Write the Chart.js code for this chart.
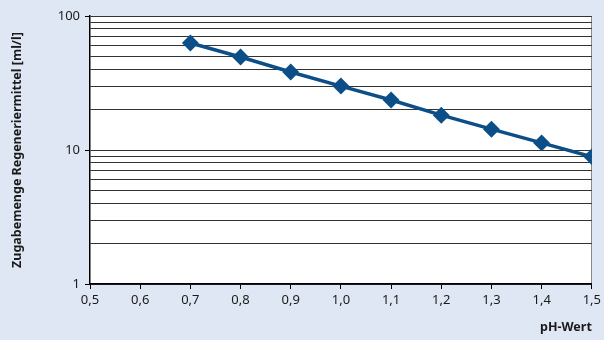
<!DOCTYPE html>
<html>
<head>
<meta charset="utf-8">
<script src="https://cdn.jsdelivr.net/npm/chart.js@4"></script>
<style>
  html, body { margin: 0; padding: 0; background: #dfe7f4; }
  #wrap { width: 604px; height: 340px; }
</style>
</head>
<body>
<div id="wrap"><canvas id="phChart" width="604" height="340"></canvas></div>
<script>
const phValues = [0.7, 0.8, 0.9, 1.0, 1.1, 1.2, 1.3, 1.4, 1.5];
const amounts = [62.9, 49.4, 38.2, 30.0, 23.6, 18.2, 14.3, 11.3, 8.9];
const xTicks = [0.5, 0.6, 0.7, 0.8, 0.9, 1.0, 1.1, 1.2, 1.3, 1.4, 1.5];
const yGrid = [1, 2, 3, 4, 5, 6, 7, 8, 9, 10, 20, 30, 40, 50, 60, 70, 80, 90, 100];
const yLabels = [1, 10, 100];

const points = phValues.map((x, i) => ({ x: x, y: amounts[i] }));
const labelFont = { family: 'Noto Sans', size: 13 };
const titleFont = { family: 'Noto Sans', size: 12.5, weight: 'bold' };

chartIt();
function chartIt() {
    const ctx = document.getElementById('phChart').getContext('2d');

    const plotBg = {
        id: 'plotBg',
        beforeDraw(chart) {
            const a = chart.chartArea;
            const c = chart.ctx;
            c.save();
            c.fillStyle = '#ffffff';
            c.fillRect(a.left, a.top, a.right - a.left, a.bottom - a.top);
            c.restore();
        }
    };

    new Chart(ctx, {
        type: 'line',
        data: {
            datasets: [{
                label: 'Zugabemenge',
                data: points,
                borderColor: '#0c4f88',
                backgroundColor: '#0c4f88',
                borderWidth: 3.5,
                pointStyle: 'rectRot',
                pointRadius: 6,
                pointHoverRadius: 6,
                fill: false,
                tension: 0
            }]
        },
        options: {
            responsive: false,
            animation: false,
            layout: { padding: { top: 16, right: 10, left: 0, bottom: 0 } },
            plugins: {
                legend: { display: false },
                tooltip: { enabled: false }
            },
            scales: {
                x: {
                    type: 'linear',
                    min: 0.5,
                    max: 1.5,
                    afterBuildTicks: scale => {
                        scale.ticks = xTicks.map(v => ({ value: v }));
                    },
                    afterFit: scale => { scale.height = 56; },
                    border: { color: '#000', width: 1.5 },
                    grid: {
                        color: c => c.index === xTicks.length - 1 ? '#888' : 'rgba(0,0,0,0)',
                        tickColor: '#000',
                        tickLength: 5
                    },
                    ticks: {
                        color: '#1a1a1a',
                        font: labelFont,
                        padding: 3,
                        maxRotation: 0,
                        autoSkip: false,
                        callback: v => v.toFixed(1).replace('.', ',')
                    },
                    title: {
                        display: true,
                        text: 'pH-Wert',
                        align: 'end',
                        color: '#1a1a1a',
                        font: titleFont,
                        padding: { top: 4, bottom: 5 }
                    }
                },
                y: {
                    type: 'logarithmic',
                    min: 1,
                    max: 100,
                    afterBuildTicks: scale => {
                        scale.ticks = yGrid.map(v => ({ value: v }));
                    },
                    afterFit: scale => { scale.width = 90; },
                    border: { color: '#000', width: 1.5 },
                    grid: {
                        color: '#333',
                        lineWidth: 1,
                        tickColor: c => yLabels.includes(c.tick.value) ? '#000' : 'rgba(0,0,0,0)',
                        tickLength: 5
                    },
                    ticks: {
                        color: '#1a1a1a',
                        font: labelFont,
                        padding: 5,
                        autoSkip: false,
                        callback: v => yLabels.includes(v) ? String(v) : ''
                    },
                    title: {
                        display: true,
                        text: 'Zugabemenge Regeneriermittel [ml/l]',
                        color: '#1a1a1a',
                        font: titleFont,
                        padding: { top: 10, bottom: 4 }
                    }
                }
            }
        },
        plugins: [plotBg]
    });
}
</script>
</body>
</html>
